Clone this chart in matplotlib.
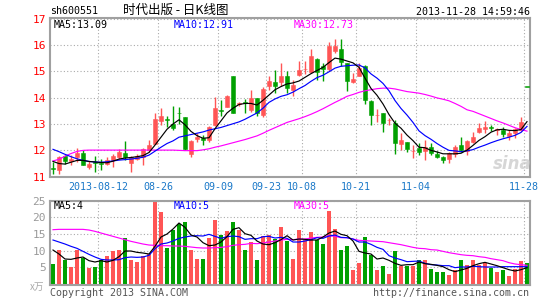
import matplotlib
matplotlib.use("Agg")
import matplotlib.pyplot as plt
import numpy as np

W, H = 545, 300

# one entry per trading day, 2013-07-31 .. 2013-11-28
opens = [11.33, 11.27, 11.78, 11.58, 11.73, 11.91, 11.37, 11.55, 11.52, 11.50,
         11.63, 11.73, 11.91, 11.53, 11.69, 11.76, 12.01, 12.26, 13.12, 13.19,
         13.00, 13.43, 13.26, 11.88, 12.42, 12.48, 12.39, 12.96, 13.53, 13.66,
         14.83, 13.75, 13.84, 13.53, 14.00, 13.34, 14.43, 14.58, 14.58, 14.83,
         14.30, 14.85, 15.07, 14.96, 15.47, 15.19, 15.09, 15.77, 15.83, 15.32,
         14.58, 14.84, 15.19, 13.86, 13.33, 13.41, 13.14, 13.03, 12.24, 12.33,
         11.97, 12.10, 11.99, 12.11, 11.88, 11.76, 11.69, 11.88, 12.20, 11.99,
         12.33, 12.71, 12.80, 12.88, 12.77, 12.77, 12.54, 12.65, 12.77, 14.40]
highs = [11.55, 11.78, 11.82, 11.82, 12.10, 12.01, 11.59, 11.78, 11.69, 11.73,
         11.88, 12.07, 12.36, 11.78, 11.88, 12.10, 12.39, 13.43, 13.62, 13.31,
         13.69, 13.64, 13.26, 12.39, 12.65, 12.58, 12.93, 14.02, 13.92, 14.10,
         14.83, 13.84, 13.95, 14.30, 14.00, 14.40, 14.82, 15.06, 15.32, 15.00,
         14.68, 15.38, 15.38, 15.83, 15.51, 15.32, 16.10, 16.23, 16.23, 15.32,
         14.94, 15.32, 15.25, 13.92, 13.57, 13.41, 13.22, 13.16, 12.65, 12.33,
         12.20, 12.27, 12.39, 12.27, 11.99, 11.78, 11.95, 12.20, 12.49, 12.39,
         12.71, 13.03, 13.13, 12.98, 12.84, 12.90, 12.77, 12.83, 13.26, 14.40]
lows = [11.10, 11.10, 11.50, 11.44, 11.57, 11.44, 11.31, 11.18, 11.25, 11.44,
        11.37, 11.69, 11.63, 11.18, 11.63, 11.44, 11.95, 12.24, 12.96, 12.90,
        12.77, 13.00, 12.02, 11.76, 12.33, 12.20, 12.33, 12.93, 13.31, 13.64,
        13.41, 13.70, 13.41, 13.47, 13.32, 13.28, 14.30, 14.17, 14.43, 14.17,
        14.05, 14.81, 14.88, 14.94, 14.68, 14.62, 15.00, 15.70, 15.19, 14.26,
        14.56, 14.81, 13.77, 12.96, 13.09, 12.71, 12.96, 11.88, 12.01, 11.95,
        11.70, 11.82, 11.63, 11.82, 11.70, 11.53, 11.53, 11.76, 11.95, 11.82,
        12.27, 12.65, 12.65, 12.73, 12.58, 12.52, 12.39, 12.46, 12.74, 14.40]
closes = [11.30, 11.73, 11.59, 11.68, 11.91, 11.46, 11.50, 11.53, 11.50, 11.63,
          11.78, 11.92, 11.73, 11.73, 11.78, 12.07, 12.20, 13.19, 13.31, 13.17,
          12.84, 13.40, 12.04, 12.35, 12.50, 12.39, 12.87, 13.60, 13.51, 14.07,
          13.43, 13.81, 13.81, 14.00, 13.41, 14.33, 14.64, 14.45, 14.83, 14.36,
          14.49, 15.04, 15.09, 15.57, 14.96, 15.09, 15.96, 15.96, 15.34, 14.62,
          14.71, 15.13, 13.92, 13.35, 13.35, 13.03, 13.16, 12.27, 12.39, 12.04,
          11.99, 11.92, 12.14, 11.91, 11.76, 11.63, 11.91, 12.14, 12.01, 12.37,
          12.52, 12.84, 12.87, 12.86, 12.79, 12.62, 12.67, 12.80, 13.09, 14.40]
ma5 = [11.58, 11.50, 11.48, 11.55, 11.62, 11.62, 11.58, 11.56, 11.54, 11.53,
       11.59, 11.67, 11.71, 11.73, 11.76, 11.80, 11.92, 12.20, 12.50, 12.80,
       13.00, 13.16, 12.97, 12.72, 12.56, 12.46, 12.48, 12.82, 13.12, 13.42,
       13.60, 13.74, 13.78, 13.78, 13.72, 13.90, 14.10, 14.30, 14.42, 14.52,
       14.56, 14.63, 14.77, 14.91, 15.03, 15.15, 15.33, 15.50, 15.46, 15.39,
       15.32, 15.15, 14.74, 14.35, 14.09, 13.76, 13.36, 13.03, 12.84, 12.58,
       12.37, 12.12, 12.10, 12.00, 11.94, 11.87, 11.87, 11.87, 11.89, 12.01,
       12.19, 12.38, 12.52, 12.69, 12.78, 12.80, 12.76, 12.75, 12.79, 13.09]
ma10 = [12.04, 11.95, 11.85, 11.76, 11.68, 11.62, 11.58, 11.56, 11.55, 11.57,
        11.60, 11.63, 11.65, 11.67, 11.70, 11.74, 11.82, 11.97, 12.12, 12.26,
        12.36, 12.50, 12.55, 12.60, 12.65, 12.70, 12.77, 12.82, 12.87, 12.94,
        13.01, 13.08, 13.18, 13.30, 13.42, 13.60, 13.82, 13.95, 14.05, 14.11,
        14.21, 14.34, 14.46, 14.62, 14.76, 14.85, 14.98, 15.12, 15.19, 15.21,
        15.23, 15.24, 15.13, 14.90, 14.74, 14.54, 14.26, 13.89, 13.59, 13.34,
        13.06, 12.74, 12.56, 12.42, 12.26, 12.12, 12.00, 11.98, 11.95, 11.98,
        12.03, 12.12, 12.20, 12.29, 12.37, 12.44, 12.50, 12.57, 12.68, 12.91]
ma30 = [11.60, 11.66, 11.78, 11.88, 11.96, 12.00, 12.01, 12.01, 12.01, 12.01,
        12.01, 12.01, 12.01, 12.01, 12.01, 12.01, 12.01, 12.01, 12.01, 12.01,
        12.01, 12.00, 11.99, 11.99, 11.99, 12.02, 12.06, 12.12, 12.17, 12.23,
        12.29, 12.35, 12.41, 12.48, 12.55, 12.65, 12.76, 12.86, 12.96, 13.06,
        13.13, 13.20, 13.28, 13.37, 13.47, 13.58, 13.70, 13.82, 13.93, 14.05,
        14.12, 14.20, 14.26, 14.30, 14.34, 14.36, 14.36, 14.33, 14.28, 14.23,
        14.20, 14.17, 14.12, 14.06, 13.99, 13.94, 13.88, 13.78, 13.67, 13.54,
        13.48, 13.39, 13.30, 13.21, 13.12, 13.04, 12.95, 12.86, 12.79, 12.73]

volumes = [6.1, 10.1, 7.3, 5.2, 10.1, 7.7, 4.7, 5.2, 7.3, 8.3,
           9.8, 10.3, 13.8, 7.3, 6.5, 8.5, 9.0, 25.1, 21.5, 10.8,
           16.1, 18.1, 18.5, 10.1, 7.6, 7.6, 13.7, 19.3, 14.8, 15.8,
           18.5, 16.1, 10.1, 12.5, 7.1, 14.3, 14.8, 13.5, 17.0, 13.0,
           7.6, 16.3, 13.3, 15.7, 13.3, 12.1, 22.0, 16.6, 10.3, 11.5,
           4.3, 6.4, 14.2, 8.6, 4.1, 5.5, 3.1, 9.8, 5.5, 5.3,
           5.3, 7.1, 7.3, 4.6, 3.5, 3.5, 2.8, 4.3, 7.1, 5.8,
           7.3, 5.8, 6.3, 4.7, 3.6, 4.3, 2.5, 4.5, 6.8, 6.4]
vol_ma5 = [10.2, 9.0, 7.5, 7.4, 7.8, 8.1, 7.0, 6.6, 7.0, 6.6,
           7.1, 8.2, 9.9, 9.9, 9.5, 9.3, 9.0, 11.3, 14.1, 15.0,
           16.5, 18.3, 17.0, 14.7, 14.1, 12.4, 11.5, 11.7, 12.6, 14.2,
           16.4, 16.9, 15.1, 14.6, 12.9, 12.0, 11.8, 12.4, 13.3, 14.5,
           13.2, 13.5, 13.4, 13.2, 13.2, 14.1, 15.3, 15.9, 14.9, 14.5,
           12.9, 9.8, 9.3, 9.0, 7.5, 7.8, 7.1, 6.2, 5.6, 5.8,
           5.8, 6.6, 6.1, 5.9, 5.6, 5.2, 4.3, 3.7, 4.2, 4.7,
           5.5, 6.1, 6.5, 6.0, 5.5, 4.9, 4.3, 3.9, 4.3, 4.9]
vol_ma10 = [13.2, 12.6, 12.0, 11.3, 10.7, 9.8, 8.9, 8.1, 7.4, 7.2,
            7.2, 7.3, 7.9, 8.1, 8.0, 8.1, 8.6, 10.6, 12.0, 12.3,
            12.9, 13.7, 14.1, 14.4, 14.5, 14.4, 14.9, 14.3, 13.7, 14.2,
            14.4, 14.2, 13.4, 13.6, 13.6, 14.2, 14.3, 13.8, 14.0, 13.7,
            12.6, 12.6, 12.9, 13.3, 13.9, 13.7, 14.4, 14.7, 14.0, 13.9,
            13.5, 12.6, 12.6, 11.9, 11.0, 10.4, 8.5, 7.8, 7.3, 6.7,
            6.8, 6.9, 6.2, 5.8, 5.7, 5.5, 5.5, 4.9, 5.1, 5.1,
            5.3, 5.2, 5.1, 5.1, 5.1, 5.2, 5.2, 5.2, 5.2, 5.2]
vol_ma30 = [16.3, 16.4, 16.4, 16.4, 16.4, 16.4, 16.2, 15.8, 15.3, 14.8,
            14.3, 13.8, 13.3, 12.8, 12.4, 12.0, 11.7, 11.6, 11.5, 11.5,
            11.4, 11.4, 11.3, 11.1, 10.9, 10.8, 10.8, 10.9, 11.0, 11.2,
            11.6, 11.8, 11.9, 12.2, 12.1, 12.3, 12.6, 12.9, 13.2, 13.4,
            13.3, 13.5, 13.5, 13.8, 14.0, 14.1, 14.5, 14.3, 13.9, 13.9,
            13.5, 13.1, 13.0, 12.9, 12.8, 12.7, 12.4, 12.1, 11.8, 11.4,
            11.0, 10.7, 10.6, 10.3, 10.2, 9.8, 9.4, 9.1, 8.8, 8.6,
            8.5, 8.2, 8.0, 7.6, 7.3, 7.0, 6.4, 6.0, 5.8, 5.6]

tick_idx = [8, 18, 28, 36, 42, 51, 61, 79]
tick_labels = ['2013-08-12', '08-26', '09-09', '09-23', '10-08', '10-21', '11-04', '11-28']
price_ticks = [11, 12, 13, 14, 15, 16, 17]
vol_ticks = [5, 10, 15, 20, 25]

RED = '#ff5555'
GREEN = '#00a000'
BLUE = '#0000ff'
MAGENTA = '#ff00ff'
MONO = 'DejaVu Sans Mono'
CJK = ['Noto Sans CJK SC', 'DejaVu Sans']


def fx(px):
    return px / W


def fy(py):
    return 1 - py / H


fig = plt.figure(figsize=(W / 100, H / 100), dpi=100)
fig.patch.set_facecolor('white')

ax = fig.add_axes([fx(50), fy(177), 480 / W, (177 - 17.5) / H])
axv = fig.add_axes([fx(50), fy(285), 480 / W, (285 - 200.7) / H])

x = np.arange(len(closes))
o = np.array(opens)
c = np.array(closes)
cols = [RED if cc > oo else GREEN for oo, cc in zip(opens, closes)]

# candles
ax.vlines(x, lows, highs, colors=cols, lw=1, zorder=2)
ax.bar(x, np.maximum(np.abs(c - o), 0.025), bottom=np.minimum(o, c), width=0.78,
       color=cols, edgecolor=cols, lw=0.4, zorder=3)
ax.plot(x, ma30, color=MAGENTA, lw=0.85, zorder=4)
ax.plot(x, ma10, color=BLUE, lw=0.85, zorder=4)
ax.plot(x, ma5, color='black', lw=0.85, zorder=4)

# volume
axv.bar(x, volumes, width=0.78, color=cols, lw=0, zorder=2)
axv.plot(x, vol_ma30, color=MAGENTA, lw=0.85, zorder=4)
axv.plot(x, vol_ma10, color=BLUE, lw=0.85, zorder=4)
axv.plot(x, vol_ma5, color='black', lw=0.85, zorder=4)

for a in (ax, axv):
    a.set_xlim(-0.5, 79.5)
    a.set_xticks(np.array(tick_idx) - 0.5)
    a.grid(True, color='#aaaaaa', ls=(0, (1, 2)), lw=0.8)
    a.set_axisbelow(True)
    for s in a.spines.values():
        s.set_color('#a0a0a0')
        s.set_linewidth(1.5)

ax.set_ylim(10.99, 17.04)
ax.set_yticks(price_ticks)
ax.set_yticklabels([str(t) for t in price_ticks], color='#ff0000', fontfamily=MONO, fontsize=8)
ax.set_xticklabels(tick_labels, color='#1a78c8', fontfamily=MONO, fontsize=7.2)
ax.tick_params(axis='y', length=0, pad=3)
ax.tick_params(axis='x', length=0, pad=3.5)

axv.set_ylim(-0.3, 25)
axv.set_yticks(vol_ticks)
axv.set_yticklabels([str(t) for t in vol_ticks], color='#999999', fontfamily=MONO, fontsize=8)
axv.set_xticklabels([])
axv.tick_params(length=0, pad=3)

# header
fig.text(fx(50), fy(11), 'sh600551', fontfamily=MONO, fontsize=7.2, va='center', ha='left')
fig.text(fx(176), fy(10), '时代出版 - 日K线图', family=CJK, fontsize=9, va='center', ha='center')
fig.text(fx(529.5), fy(12), '2013-11-28 14:59:46', fontfamily=MONO, fontsize=7.2, va='center', ha='right')

# moving-average captions
fig.text(fx(54), fy(24.5), 'MA5:13.09', color='black', fontfamily=MONO, fontsize=7.2, va='center')
fig.text(fx(174), fy(24.5), 'MA10:12.91', color=BLUE, fontfamily=MONO, fontsize=7.2, va='center')
fig.text(fx(294), fy(24.5), 'MA30:12.73', color=MAGENTA, fontfamily=MONO, fontsize=7.2, va='center')
fig.text(fx(54), fy(206), 'MA5:4', color='black', fontfamily=MONO, fontsize=7.2, va='center')
fig.text(fx(174), fy(206), 'MA10:5', color=BLUE, fontfamily=MONO, fontsize=7.2, va='center')
fig.text(fx(294), fy(206), 'MA30:5', color=MAGENTA, fontfamily=MONO, fontsize=7.2, va='center')

# footer
fig.text(fx(44), fy(287), 'x万', family=CJK, fontsize=7, color='#aaaaaa', va='center', ha='right',
         fontstyle='italic')
fig.text(fx(50), fy(292.5), 'Copyright 2013 SINA.COM', fontfamily=MONO, fontsize=7.2,
         color='#555555', va='center', ha='left')
fig.text(fx(529.5), fy(292.5), 'http://finance.sina.com.cn', fontfamily=MONO, fontsize=7.2,
         color='#555555', va='center', ha='right')

# watermark
fig.text(fx(512), fy(164), 'sina', fontsize=12, fontstyle='italic', fontweight='bold',
         color='#cccccc', alpha=0.8, va='center', ha='center')

fig.savefig('out.png', dpi=100, facecolor='white')
